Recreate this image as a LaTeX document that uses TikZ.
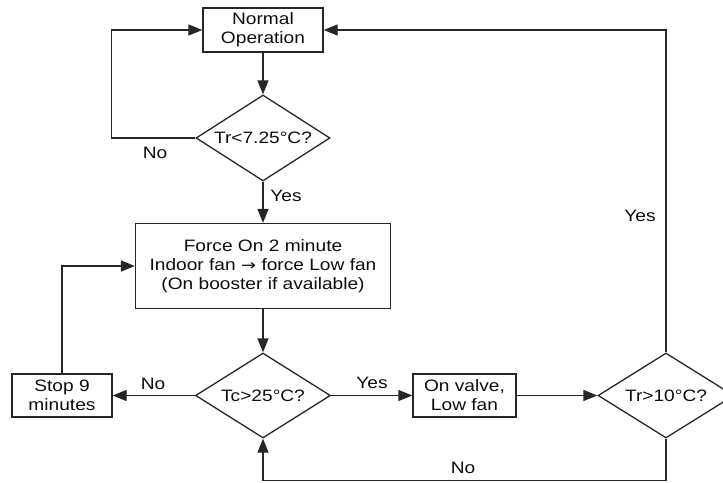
\documentclass[tikz,border=0pt]{standalone}
\usepackage{fontspec}
\setmainfont{Liberation Sans}[FakeStretch=1.16]
\newfontfamily\arrowfont{DejaVu Sans}[FakeStretch=1.2]
\usetikzlibrary{shapes.geometric,arrows.meta}

\begin{document}
\begin{tikzpicture}[x=1pt,y=-1pt,
  ink/.style={draw=black!85, line width=1.3pt},
  txt/.style={text=black!95, font=\fontsize{16.5}{19}\selectfont},
  box/.style={ink, txt, rectangle, inner sep=0pt, align=center},
  decision/.style={ink, txt, diamond, inner sep=0pt, aspect=1.6},
  flow/.style={ink, -{Triangle[length=14pt,width=11pt]}},
  lbl/.style={txt, inner sep=0pt}]

\useasboundingbox (0,0) rectangle (723,482);
\clip (0,0) rectangle (723,482);

% process boxes and decisions
\node[box, minimum width=120pt, minimum height=44pt] (normal) at (263,30) {Normal\\Operation};
\node[decision, minimum width=134pt, minimum height=86pt] (q1) at (263,138) {Tr<7.25°C?};
\node[box, minimum width=255pt, minimum height=85pt] (force) at (263,266)
  {Force On 2 minute\\Indoor fan {\arrowfont\fontsize{15}{18}\selectfont →} force Low fan\\(On booster if available)};
\node[decision, minimum width=135pt, minimum height=85pt] (q2) at (263,395.5) {Tc>25°C?};
\node[box, minimum width=100pt, minimum height=43pt] (stop) at (62,395.5) {Stop 9\\minutes};
\node[box, minimum width=103pt, minimum height=43pt] (valve) at (464.5,395.5) {On valve,\\Low fan};
\node[decision, minimum width=136pt, minimum height=85pt] (q3) at (666,395.5) {Tr>10°C?};

% connectors
\draw[flow] (normal) -- (q1);
\draw[flow] (q1.west) -- ++(-84,0) |- (normal.west);
\draw[flow] (q1) -- (force);
\draw[flow] (force) -- (q2);
\draw[flow] (q2) -- (stop);
\draw[flow] (stop.north) |- (force.west);
\draw[flow] (q2) -- (valve);
\draw[flow] (valve) -- (q3);
\draw[flow] (q3.south) -- ++(0,42) -| (q2.south);
\draw[flow] (q3.north) |- (normal.east);

% branch labels
\node[lbl] at (155,153) {No};
\node[lbl] at (286,196) {Yes};
\node[lbl] at (153,384) {No};
\node[lbl] at (372,383) {Yes};
\node[lbl] at (640,216) {Yes};
\node[lbl] at (463,468) {No};
\end{tikzpicture}
\end{document}
